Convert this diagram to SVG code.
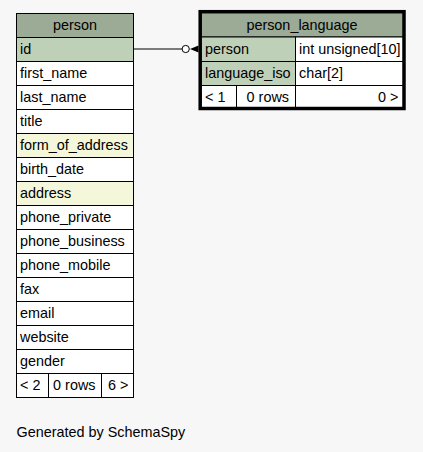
<svg xmlns="http://www.w3.org/2000/svg" width="423" height="452" viewBox="0 0 423 452">
<style>
text{font-family:"Liberation Sans",Arial,Helvetica,sans-serif;font-size:14.4px;fill:#000}
.hd{fill:#9bab96}
.pk{fill:#bed1b8}
.ix{fill:#f4f7da}
.pl{fill:#ffffff}
.cell{stroke:#000;stroke-width:1}
.c{text-anchor:middle}
.r{text-anchor:end}
</style>
<rect x="0" y="0" width="423" height="452" fill="#f7f7f7"/>
<g id="connectors">
<line x1="133.5" y1="49" x2="182" y2="49" stroke="#000" stroke-width="1"/>
<circle cx="185.7" cy="49" r="3.6" fill="#ffffff" stroke="#000" stroke-width="1"/>
<polygon points="190,49 198.5,45.5 198.5,52.5" fill="#000"/>
</g>
<g id="person">
<rect class="cell hd" x="16.5" y="13.5" width="117" height="24"/>
<text class="c" x="75" y="30">person</text>
<rect class="cell pk" x="16.5" y="37.5" width="117" height="24"/>
<text x="20" y="54">id</text>
<rect class="cell pl" x="16.5" y="61.5" width="117" height="24"/>
<text x="20" y="78">first_name</text>
<rect class="cell pl" x="16.5" y="85.5" width="117" height="24"/>
<text x="20" y="102">last_name</text>
<rect class="cell pl" x="16.5" y="109.5" width="117" height="24"/>
<text x="20" y="126">title</text>
<rect class="cell ix" x="16.5" y="133.5" width="117" height="24"/>
<text x="20" y="150">form_of_address</text>
<rect class="cell pl" x="16.5" y="157.5" width="117" height="24"/>
<text x="20" y="174">birth_date</text>
<rect class="cell ix" x="16.5" y="181.5" width="117" height="24"/>
<text x="20" y="198">address</text>
<rect class="cell pl" x="16.5" y="205.5" width="117" height="24"/>
<text x="20" y="222">phone_private</text>
<rect class="cell pl" x="16.5" y="229.5" width="117" height="24"/>
<text x="20" y="246">phone_business</text>
<rect class="cell pl" x="16.5" y="253.5" width="117" height="24"/>
<text x="20" y="270">phone_mobile</text>
<rect class="cell pl" x="16.5" y="277.5" width="117" height="24"/>
<text x="20" y="294">fax</text>
<rect class="cell pl" x="16.5" y="301.5" width="117" height="24"/>
<text x="20" y="318">email</text>
<rect class="cell pl" x="16.5" y="325.5" width="117" height="24"/>
<text x="20" y="342">website</text>
<rect class="cell pl" x="16.5" y="349.5" width="117" height="24"/>
<text x="20" y="366">gender</text>
<rect class="cell pl" x="16.5" y="373.5" width="32" height="24"/>
<rect class="cell pl" x="48.5" y="373.5" width="53" height="24"/>
<rect class="cell pl" x="101.5" y="373.5" width="32" height="24"/>
<text x="20" y="390">&lt; 2</text>
<text class="r" x="95.5" y="390">0 rows</text>
<text class="r" x="128.5" y="390">6 &gt;</text>
</g>
<g id="person_language">
<rect class="cell hd" x="200.5" y="12.5" width="203" height="24.5"/>
<text class="c" x="302" y="30">person_language</text>
<rect class="cell pk" x="200.5" y="37" width="95" height="24.5"/>
<text x="205" y="54">person</text>
<rect class="cell pl" x="295.5" y="37" width="108" height="24.5"/>
<text x="299" y="54">int unsigned[10]</text>
<rect class="cell pk" x="200.5" y="61.5" width="95" height="24"/>
<text x="205" y="78">language_iso</text>
<rect class="cell pl" x="295.5" y="61.5" width="108" height="24"/>
<text x="299" y="78">char[2]</text>
<rect class="cell pl" x="200.5" y="85.5" width="36" height="23"/>
<rect class="cell pl" x="236.5" y="85.5" width="59" height="23"/>
<rect class="cell pl" x="295.5" y="85.5" width="108" height="23"/>
<text x="205" y="102">&lt; 1</text>
<text class="r" x="289" y="102">0 rows</text>
<text class="r" x="398.5" y="102">0 &gt;</text>
<rect x="200.2" y="11.7" width="203.8" height="96.8" fill="none" stroke="#000" stroke-width="3.5"/>
</g>
<text x="16.5" y="437">Generated by SchemaSpy</text>
</svg>
